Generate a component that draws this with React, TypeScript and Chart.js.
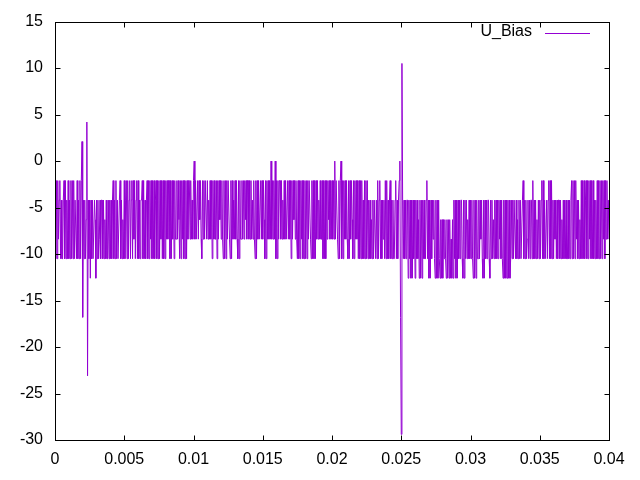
import React, { useEffect, useRef } from "react";
import { Chart, registerables } from "chart.js";

Chart.register(...registerables);

const SERIES_NAME = "U_Bias";
const SAMPLE_STEP = 0.00005; // seconds between samples
const U_BIAS = [
  -2.1, -10.5, -2.1, -10.5, -2.1, -8.4, -4.2, -2.1, -10.5, -4.2, -10.5, -10.5, -4.2, -2.1, -10.5, -2.1, -10.5, -4.2, -10.5, -2.1,
  -10.5, -4.2, -10.5, -2.1, -10.5, -2.1, -10.5, -2.1, -10.5, -4.2, -4.2, -10.5, -2.1, -10.5, -4.2, -10.5, -2.1, -10.5, -2.1, 2.1,
  -16.8, -4.2, -10.5, -4.2, -10.5, -6.3, 4.2, -23.1, -4.2, -10.5, -4.2, -12.6, -4.2, -10.5, -4.2, -10.5, -10.5, -4.2, -6.3, -12.6,
  -4.2, -10.5, -4.2, -10.5, -8.4, -4.2, -10.5, -4.2, -4.2, -10.5, -4.2, -10.5, -6.3, -10.5, -4.2, -10.5, -10.5, -4.2, -10.5, -4.2,
  -10.5, -4.2, -10.5, -4.2, -2.1, -10.5, -4.2, -10.5, -2.1, -10.5, -4.2, -10.5, -10.5, -4.2, -2.1, -10.5, -4.2, -10.5, -6.3, -10.5,
  -2.1, -10.5, -4.2, -2.1, -10.5, -2.1, -10.5, -4.2, -2.1, -10.5, -4.2, -2.1, -10.5, -2.1, -8.4, -2.1, -10.5, -4.2, -2.1, -10.5,
  -2.1, -10.5, -4.2, -10.5, -4.2, -4.2, -2.1, -10.5, -2.1, -10.5, -4.2, -10.5, -4.2, -2.1, -10.5, -2.1, -10.5, -2.1, -8.4, -2.1,
  -10.5, -2.1, -10.5, -2.1, -10.5, -4.2, -2.1, -10.5, -2.1, -10.5, -2.1, -10.5, -2.1, -8.4, -2.1, -10.5, -2.1, -10.5, -2.1, -10.5,
  -2.1, -8.4, -2.1, -8.4, -2.1, -2.1, -10.5, -2.1, -10.5, -2.1, -8.4, -2.1, -10.5, -2.1, -8.4, -8.4, -2.1, -8.4, -2.1, -6.3,
  -10.5, -2.1, -10.5, -2.1, -8.4, -2.1, -10.5, -2.1, -10.5, -2.1, -10.5, -2.1, -8.4, -2.1, -2.1, -8.4, -2.1, -8.4, -4.2, -8.4,
  -2.1, 0, -8.4, -2.1, -8.4, -8.4, -2.1, -8.4, -2.1, -6.3, -2.1, -8.4, -10.5, -2.1, -8.4, -2.1, -8.4, -2.1, -2.1, -8.4,
  -2.1, -8.4, -4.2, -8.4, -2.1, -8.4, -2.1, -10.5, -2.1, -8.4, -2.1, -8.4, -8.4, -2.1, -10.5, -2.1, -8.4, -2.1, -6.3, -2.1,
  -8.4, -2.1, -8.4, -10.5, -2.1, -10.5, -2.1, -10.5, -2.1, -8.4, -2.1, -2.1, -8.4, -10.5, -2.1, -10.5, -2.1, -8.4, -4.2, -8.4,
  -2.1, -8.4, -2.1, -8.4, -10.5, -2.1, -10.5, -2.1, -8.4, -8.4, -2.1, -8.4, -2.1, -8.4, -2.1, -6.3, -2.1, -8.4, -2.1, -2.1,
  -8.4, -2.1, -8.4, -2.1, -8.4, -4.2, -8.4, -2.1, -8.4, -10.5, -2.1, -10.5, -2.1, -8.4, -2.1, -8.4, -8.4, -2.1, -8.4, -2.1,
  -8.4, -2.1, -6.3, -10.5, -2.1, -10.5, -2.1, -8.4, -2.1, -8.4, -2.1, -8.4, 0, -8.4, -2.1, -8.4, -2.1, -8.4, 0, -10.5,
  -2.1, -10.5, -2.1, -8.4, -2.1, -2.1, -8.4, -2.1, -8.4, -4.2, -8.4, -2.1, -8.4, -2.1, -8.4, -8.4, -2.1, -8.4, -2.1, -8.4,
  -2.1, -10.5, -2.1, -8.4, -2.1, -6.3, -2.1, -8.4, -2.1, -8.4, -10.5, -2.1, -10.5, -2.1, -10.5, -2.1, -8.4, -2.1, -10.5, -2.1,
  -10.5, -2.1, -10.5, -2.1, -10.5, -2.1, -8.4, -2.1, -2.1, -8.4, -10.5, -2.1, -10.5, -2.1, -10.5, -2.1, -10.5, -2.1, -8.4, -2.1,
  -8.4, -4.2, -8.4, -2.1, -8.4, -8.4, -2.1, -10.5, -2.1, -10.5, -2.1, -10.5, -2.1, -8.4, -2.1, -6.3, -2.1, -8.4, -2.1, -8.4,
  -2.1, -8.4, -2.1, -8.4, 0, -8.4, -2.1, -2.1, -8.4, -10.5, -2.1, -10.5, -2.1, 0, -10.5, -2.1, -10.5, -2.1, -8.4, -2.1,
  -8.4, -2.1, -8.4, -10.5, -2.1, -10.5, -2.1, -8.4, -2.1, -6.3, -10.5, -2.1, -10.5, -2.1, -8.4, -2.1, -8.4, -2.1, -10.5, -2.1,
  -10.5, -2.1, -10.5, -2.1, -10.5, -4.2, -10.5, -2.1, -10.5, -2.1, -10.5, -2.1, -10.5, -4.2, -10.5, -4.2, -10.5, -6.3, -10.5, -4.2,
  -10.5, -4.2, -4.2, -10.5, -4.2, -10.5, -2.1, -10.5, -4.2, -2.1, -10.5, -4.2, -10.5, -4.2, -8.4, -4.2, -10.5, -2.1, -10.5, -2.1,
  -10.5, -4.2, -10.5, -4.2, -2.1, -10.5, -4.2, -10.5, -4.2, -10.5, -10.5, -4.2, -2.1, -10.5, -4.2, -10.5, -4.2, -2.1, 0, -16.8,
  -29.4, 10.5, -4.2, -10.5, -4.2, -10.5, -4.2, -10.5, -4.2, -4.2, -12.6, -4.2, -10.5, -4.2, -12.6, -4.2, -12.6, -4.2, -10.5, -4.2,
  -12.6, -4.2, -10.5, -4.2, -10.5, -6.3, -12.6, -4.2, -12.6, -4.2, -12.6, -4.2, -10.5, -4.2, -10.5, -10.5, -4.2, -2.1, -10.5, -4.2,
  -12.6, -4.2, -12.6, -4.2, -10.5, -4.2, -8.4, -4.2, -10.5, -12.6, -4.2, -12.6, -4.2, -12.6, -4.2, -10.5, -12.6, -6.3, -12.6, -6.3,
  -12.6, -6.3, -10.5, -6.3, -10.5, -12.6, -6.3, -12.6, -6.3, -12.6, -6.3, -12.6, -8.4, -12.6, -6.3, -12.6, -4.2, -10.5, -4.2, -12.6,
  -4.2, -12.6, -4.2, -10.5, -4.2, -10.5, -4.2, -4.2, -10.5, -12.6, -4.2, -12.6, -4.2, -10.5, -4.2, -10.5, -6.3, -10.5, -4.2, -10.5,
  -4.2, -10.5, -4.2, -10.5, -12.6, -4.2, -12.6, -4.2, -12.6, -4.2, -10.5, -10.5, -4.2, -10.5, -4.2, -8.4, -4.2, -10.5, -12.6, -4.2,
  -12.6, -4.2, -10.5, -4.2, -10.5, -4.2, -4.2, -10.5, -12.6, -4.2, -10.5, -4.2, -10.5, -6.3, -10.5, -4.2, -10.5, -4.2, -10.5, -4.2,
  -10.5, -4.2, -8.4, -4.2, -10.5, -4.2, -10.5, -12.6, -4.2, -12.6, -4.2, -12.6, -4.2, -12.6, -4.2, -12.6, -4.2, -12.6, -10.5, -4.2,
  -10.5, -4.2, -10.5, -4.2, -4.2, -10.5, -4.2, -10.5, -6.3, -10.5, -4.2, -10.5, -4.2, -10.5, -10.5, -4.2, -2.1, -10.5, -4.2, -10.5,
  -4.2, -10.5, -8.4, -4.2, -10.5, -4.2, -10.5, -4.2, -4.2, -10.5, -2.1, -10.5, -4.2, -10.5, -4.2, -10.5, -6.3, -10.5, -4.2, -10.5,
  -4.2, -10.5, -4.2, -2.1, -10.5, -2.1, -10.5, -4.2, -10.5, -10.5, -4.2, -10.5, -4.2, -2.1, -10.5, -2.1, -10.5, -2.1, -10.5, -4.2,
  -10.5, -4.2, -8.4, -4.2, -10.5, -4.2, -10.5, -4.2, -4.2, -10.5, -4.2, -10.5, -6.3, -10.5, -4.2, -10.5, -4.2, -10.5, -4.2, -10.5,
  -10.5, -4.2, -10.5, -4.2, -10.5, -4.2, -2.1, -10.5, -2.1, -10.5, -2.1, -10.5, -2.1, -8.4, -4.2, -10.5, -4.2, -10.5, -6.3, -10.5,
  -2.1, -10.5, -2.1, -10.5, -2.1, -10.5, -4.2, -2.1, -10.5, -2.1, -10.5, -2.1, -8.4, -2.1, -10.5, -2.1, -10.5, -2.1, -10.5, -4.2,
  -10.5, -4.2, -10.5, -2.1, -10.5, -2.1, -10.5, -2.1, -10.5, -2.1, -10.5, -2.1, -8.4, -2.1, -10.5, -2.1, -8.4, -2.1, -8.4, -4.2,
  -8.4,
];
const X_TICKS = [0, 0.005, 0.01, 0.015, 0.02, 0.025, 0.03, 0.035, 0.04];
const Y_TICKS = [15, 10, 5, 0, -5, -10, -15, -20, -25, -30];

const LINE_COLOR = "#9400d3";
const FONT_FAMILY = "'Liberation Sans', Arial, sans-serif";
const FONT_SIZE = 16;
const TICK_LEN = 5;

export default function App() {
  const canvasRef = useRef<HTMLCanvasElement | null>(null);

  useEffect(() => {
    const canvas = canvasRef.current;
    if (!canvas) return;

    const points = U_BIAS.map((y, i) => ({ x: +(i * SAMPLE_STEP).toFixed(6), y }));

    const framePlugin = {
      id: "gnuFrame",
      afterDraw(chart: any) {
        const { ctx, chartArea: a, scales } = chart;
        const xs = scales.x;
        const ys = scales.y;
        const L = Math.round(a.left) + 0.5;
        const R = Math.round(a.right) + 0.5;
        const T = Math.round(a.top) + 0.5;
        const B = Math.round(a.bottom) + 0.5;
        ctx.save();
        ctx.strokeStyle = "#000";
        ctx.lineWidth = 1;
        ctx.beginPath();
        for (const v of X_TICKS) {
          const px = Math.round(xs.getPixelForValue(v)) + 0.5;
          ctx.moveTo(px, B);
          ctx.lineTo(px, B - TICK_LEN);
          ctx.moveTo(px, T);
          ctx.lineTo(px, T + TICK_LEN);
        }
        for (const v of Y_TICKS) {
          const py = Math.round(ys.getPixelForValue(v)) + 0.5;
          ctx.moveTo(L, py);
          ctx.lineTo(L + TICK_LEN, py);
          ctx.moveTo(R, py);
          ctx.lineTo(R - TICK_LEN, py);
        }
        ctx.stroke();
        ctx.strokeRect(L, T, R - L, B - T);

        // legend (gnuplot style, top right inside the frame)
        ctx.font = `${FONT_SIZE}px ${FONT_FAMILY}`;
        ctx.fillStyle = "#000";
        ctx.textAlign = "right";
        ctx.textBaseline = "middle";
        ctx.fillText(SERIES_NAME, 532, 32);
        ctx.strokeStyle = LINE_COLOR;
        ctx.lineWidth = 1.2;
        ctx.beginPath();
        ctx.moveTo(545, 33.5);
        ctx.lineTo(590, 33.5);
        ctx.stroke();
        ctx.restore();
      },
    };

    const chart = new Chart(canvas, {
      type: "line",
      data: {
        datasets: [
          {
            label: SERIES_NAME,
            data: points,
            borderColor: LINE_COLOR,
            borderWidth: 1,
            borderJoinStyle: "bevel",
            pointRadius: 0,
            fill: false,
            tension: 0,
          },
        ],
      },
      options: {
        animation: false,
        responsive: false,
        maintainAspectRatio: false,
        parsing: false,
        normalized: true,
        layout: { padding: { left: 0, top: 19, right: 31, bottom: 0 } },
        plugins: {
          legend: { display: false },
          tooltip: { enabled: false },
        },
        scales: {
          x: {
            type: "linear",
            min: 0,
            max: 0.04,
            grid: { display: false, drawTicks: false },
            border: { display: false },
            afterBuildTicks: (scale: any) => {
              scale.ticks = X_TICKS.map((v) => ({ value: v }));
            },
            afterFit: (scale: any) => {
              scale.height = 40;
            },
            ticks: {
              padding: 10,
              color: "#000",
              maxRotation: 0,
              autoSkip: false,
              font: { family: FONT_FAMILY, size: FONT_SIZE },
              callback: (v: any) => String(Number(Number(v).toFixed(4))),
            },
          },
          y: {
            type: "linear",
            min: -30,
            max: 15,
            grid: { display: false, drawTicks: false },
            border: { display: false },
            afterBuildTicks: (scale: any) => {
              scale.ticks = Y_TICKS.map((v) => ({ value: v }));
            },
            afterFit: (scale: any) => {
              scale.width = 55;
            },
            ticks: {
              padding: 12,
              color: "#000",
              autoSkip: false,
              font: { family: FONT_FAMILY, size: FONT_SIZE },
              callback: (v: any) => String(v),
            },
          },
        },
      },
      plugins: [framePlugin],
    });

    return () => {
      chart.destroy();
    };
  }, []);

  return (
    <div style={{ position: "fixed", left: 0, top: 0, width: 640, height: 480, background: "#fff" }}>
      <canvas ref={canvasRef} width={640} height={480} style={{ width: 640, height: 480, display: "block" }} />
    </div>
  );
}
